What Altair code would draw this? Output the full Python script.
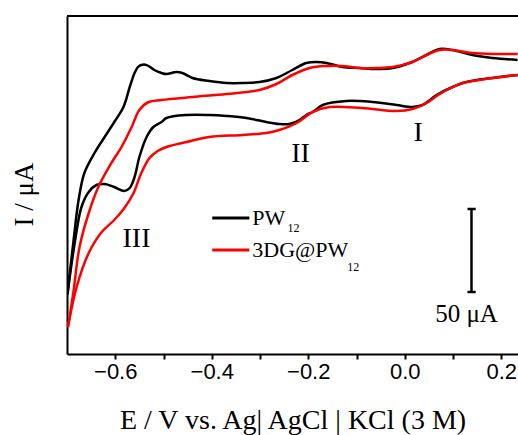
import altair as alt
import pandas as pd

# ---------------- data (E in V vs Ag|AgCl, I in µA, arbitrary offset) ----------------
# PW12 (black) upper branch
pw_up_E = [-0.699, -0.687, -0.676, -0.664, -0.643, -0.622, -0.602, -0.583, -0.570, -0.560,
           -0.553, -0.546, -0.538, -0.531, -0.519, -0.504, -0.494, -0.473, -0.461, -0.440,
           -0.405, -0.369, -0.336, -0.301, -0.266, -0.233, -0.204, -0.183, -0.162, -0.129,
           -0.094, -0.059, -0.025, 0.010, 0.045, 0.072, 0.099, 0.140, 0.182, 0.234]
pw_up_I = [36.0, 66.6, 92.4, 108.6, 120.6, 130.2, 139.2, 148.2, 160.2, 168.6,
           172.2, 173.4, 173.6, 172.8, 170.4, 168.6, 168.0, 169.2, 168.6, 165.6,
           163.8, 162.6, 162.6, 163.2, 165.6, 170.4, 174.6, 175.2, 174.6, 172.2,
           171.6, 171.0, 171.6, 174.6, 179.4, 183.0, 182.4, 179.4, 177.6, 176.4]
# PW12 (black) lower branch
pw_dn_E = [-0.699, -0.684, -0.670, -0.655, -0.639, -0.622, -0.602, -0.581, -0.570, -0.560,
           -0.550, -0.535, -0.521, -0.504, -0.494, -0.452, -0.405, -0.369, -0.328, -0.287,
           -0.260, -0.239, -0.218, -0.204, -0.191, -0.170, -0.121, -0.067, -0.017, 0.016,
           0.037, 0.066, 0.099, 0.128, 0.182, 0.234]
pw_dn_I = [36.0, 66.6, 88.2, 97.2, 101.4, 102.0, 100.2, 97.8, 99.6, 106.2,
           118.2, 130.2, 136.2, 139.2, 141.6, 143.4, 143.4, 142.8, 141.6, 139.2,
           138.0, 138.0, 140.4, 143.4, 145.2, 149.4, 151.8, 151.2, 149.4, 148.2,
           149.4, 155.4, 160.2, 163.2, 165.6, 167.4]
# 3DG@PW12 (red) upper branch
dg_up_E = [-0.698, -0.687, -0.674, -0.655, -0.635, -0.608, -0.587, -0.566, -0.550, -0.531,
           -0.504, -0.440, -0.369, -0.301, -0.266, -0.233, -0.197, -0.162, -0.129, -0.094,
           -0.059, -0.025, 0.016, 0.045, 0.072, 0.099, 0.140, 0.190, 0.234]
dg_up_I = [16.2, 36.6, 64.2, 84.6, 100.2, 114.6, 124.2, 136.2, 146.4, 151.2,
           152.4, 154.2, 156.0, 158.4, 162.0, 167.4, 171.6, 172.8, 172.8, 171.6,
           171.6, 172.2, 175.2, 179.4, 182.4, 182.4, 180.6, 180.0, 180.0]
# 3DG@PW12 (red) lower branch
dg_dn_E = [-0.698, -0.680, -0.655, -0.628, -0.602, -0.581, -0.562, -0.546, -0.529, -0.512,
           -0.494, -0.452, -0.405, -0.336, -0.287, -0.260, -0.224, -0.191, -0.156, -0.088,
           -0.017, 0.016, 0.045, 0.066, 0.087, 0.120, 0.155, 0.182, 0.234]
dg_dn_I = [16.2, 40.2, 60.6, 73.2, 80.4, 87.6, 96.6, 108.6, 117.6, 121.8,
           124.2, 127.2, 130.2, 131.4, 132.6, 134.4, 138.6, 145.2, 148.2, 147.6,
           145.8, 147.0, 150.6, 154.8, 158.4, 162.6, 164.4, 165.6, 167.4]

# annotations
peak_labels = ["I", "II", "III"]
peak_E = [0.028, -0.216, -0.556]
peak_I = [132.6, 120.0, 69.0]

legend_names = ["PW", "3DG@PW"]
legend_colors = ["#000000", "#ff0000"]
legend_line_E = [-0.399, -0.322]
legend_I = [81.6, 62.4]
legend_text_E = -0.316
legend_sub_E = [-0.243, -0.119]
legend_sub_I = [75.6, 52.2]

scalebar_E = 0.1383
scalebar_cap_E = [0.130, 0.147]
scalebar_I = [37.2, 87.0]
scalebar_text = "50 μA"
scalebar_text_E = 0.128
scalebar_text_I = 24.0

x_ticks = [-0.6, -0.5, -0.4, -0.3, -0.2, -0.1, 0.0, 0.1, 0.2]

# ---------------- frames ----------------
def branch_df(Es, Is, br):
    return pd.DataFrame({"E": Es, "I": Is, "branch": br})

df_pw = pd.concat([branch_df(pw_up_E, pw_up_I, "up"), branch_df(pw_dn_E, pw_dn_I, "dn")])
df_dg = pd.concat([branch_df(dg_up_E, dg_up_I, "up"), branch_df(dg_dn_E, dg_dn_I, "dn")])

xscale = alt.Scale(domain=[-0.7, 0.2347], nice=False, zero=False)
yscale = alt.Scale(domain=[0, 202.8], nice=False, zero=False)

x_axis = alt.Axis(
    values=x_ticks,
    labelExpr="(round(datum.value*10) % 2 == 0) ? format(datum.value, '.1f') : ''",
    title="E / V vs. Ag| AgCl | KCl (3 M)",
    titleY=74, titleBaseline="alphabetic",
    tickSize=5, labelPadding=2, grid=False,
)
y_axis = alt.Axis(
    labels=False, ticks=False, grid=False,
    title="I / μA", titleX=-43, titleY=178, titleAngle=270,
    titleAlign="center", titleBaseline="middle",
)

def X(field="E"):
    return alt.X(f"{field}:Q", scale=xscale, axis=x_axis)

def Y(field="I"):
    return alt.Y(f"{field}:Q", scale=yscale, axis=y_axis)

black = alt.Chart(df_pw).mark_line(color="#000000", strokeWidth=2.5, interpolate="catmull-rom", clip=True).encode(
    x=X(), y=Y(), detail="branch:N")
red = alt.Chart(df_dg).mark_line(color="#ff0000", strokeWidth=2.5, interpolate="catmull-rom", clip=True).encode(
    x=X(), y=Y(), detail="branch:N")

peaks_df = pd.DataFrame({"label": peak_labels, "E": peak_E, "I": peak_I})
peaks = alt.Chart(peaks_df).mark_text(font="Liberation Serif", fontSize=28, color="#000000",
                                      align="center", baseline="middle").encode(
    x=X(), y=Y(), text="label:N")

leg_df = pd.DataFrame({"name": legend_names, "color": legend_colors,
                       "E": [legend_line_E[0]] * 2, "E2": [legend_line_E[1]] * 2,
                       "I": legend_I, "Et": [legend_text_E] * 2,
                       "Es": legend_sub_E, "Is": legend_sub_I, "sub": ["12", "12"]})
leg_lines = alt.Chart(leg_df).mark_rule(strokeWidth=3).encode(
    x=X(), x2="E2:Q", y=Y(), color=alt.Color("color:N", scale=None))
leg_text = alt.Chart(leg_df).mark_text(font="Liberation Serif", fontSize=22, color="#000000",
                                       align="left", baseline="middle").encode(
    x=X("Et"), y=Y(), text="name:N")
leg_sub = alt.Chart(leg_df).mark_text(font="Liberation Serif", fontSize=12, color="#000000",
                                      align="left", baseline="middle").encode(
    x=X("Es"), y=Y("Is"), text="sub:N")

sb_df = pd.DataFrame({"E": [scalebar_E], "I": [scalebar_I[0]], "I2": [scalebar_I[1]]})
sb_line = alt.Chart(sb_df).mark_rule(strokeWidth=2.5, color="#000000").encode(
    x=X(), y=Y(), y2="I2:Q")
cap_df = pd.DataFrame({"E": [scalebar_cap_E[0]] * 2, "E2": [scalebar_cap_E[1]] * 2, "I": scalebar_I})
sb_caps = alt.Chart(cap_df).mark_rule(strokeWidth=2.5, color="#000000").encode(
    x=X(), x2="E2:Q", y=Y())
sb_txt_df = pd.DataFrame({"E": [scalebar_text_E], "I": [scalebar_text_I], "t": [scalebar_text]})
sb_text = alt.Chart(sb_txt_df).mark_text(font="Liberation Serif", fontSize=25, color="#000000",
                                         align="center", baseline="middle").encode(
    x=X(), y=Y(), text="t:N")

top_border = alt.Chart(peaks_df).mark_rule(strokeWidth=2, color="#000000").encode(
    x=alt.value(0), x2=alt.value(451), y=alt.value(0))

chart = alt.layer(
    black, red, peaks, leg_lines, leg_text, leg_sub, sb_line, sb_caps, sb_text, top_border
).properties(
    width=451, height=338,
    autosize=alt.AutoSizeParams(type="none"),
    padding={"left": 67, "top": 16, "right": 0, "bottom": 81},
    background="white",
).configure_view(stroke=None).configure_axis(
    domainColor="#000000", domainWidth=2, tickColor="#000000", tickWidth=2,
    labelFont="Liberation Sans", labelFontSize=22, labelColor="#000000",
    titleFont="Liberation Serif", titleFontSize=28, titleFontWeight="normal", titleColor="#000000",
).configure_axisY(titleFontSize=27)

chart.save("out.html", embed_options={"renderer": "svg", "actions": False})
